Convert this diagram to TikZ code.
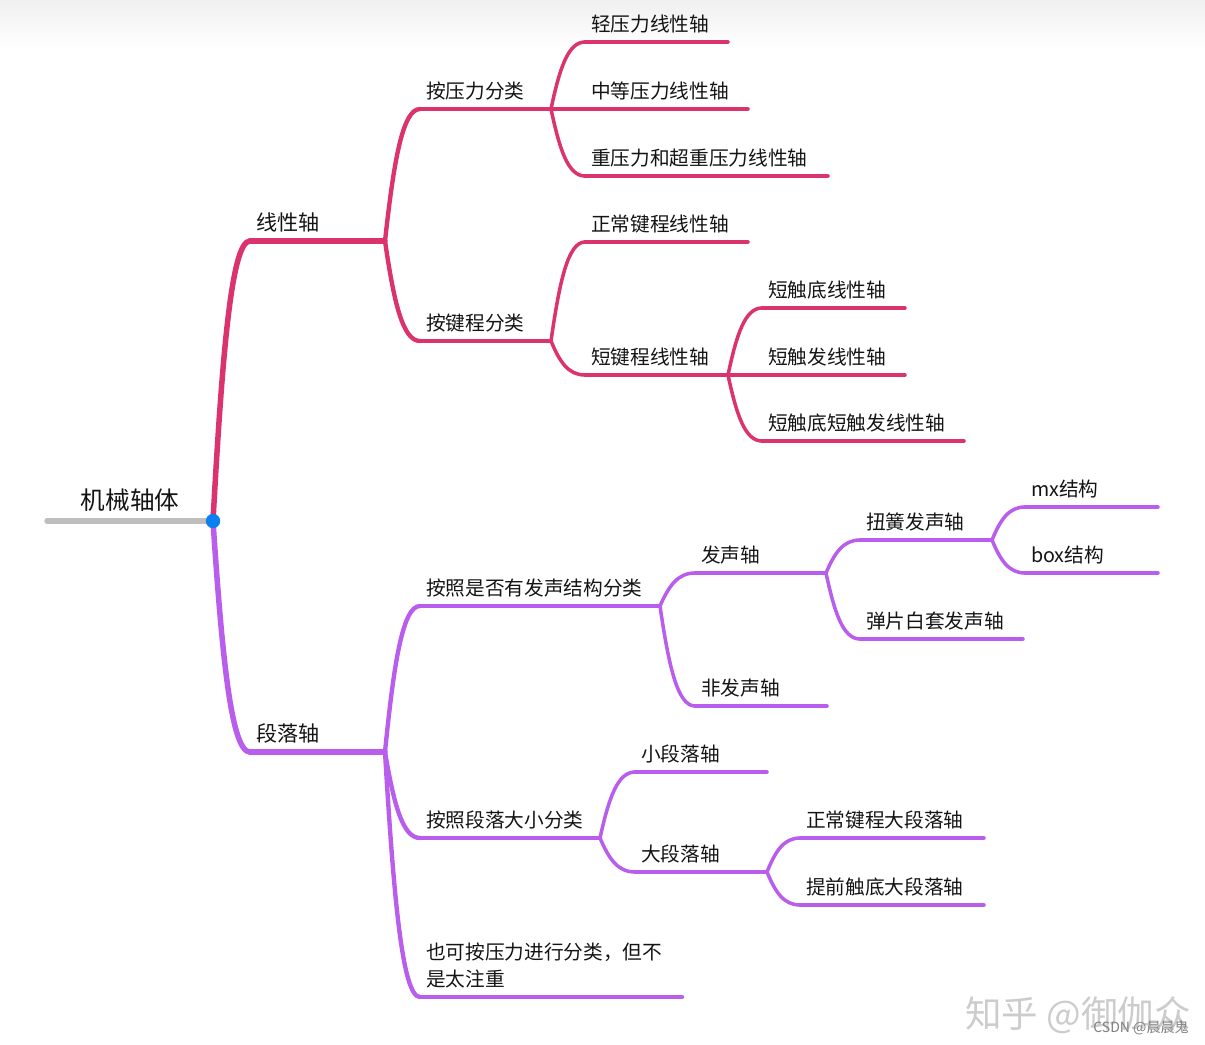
\documentclass[tikz,border=0pt]{standalone}
\usepackage{fontspec}
\setmainfont{Noto Sans CJK SC}
\usetikzlibrary{calc}
\definecolor{pk}{RGB}{219,51,110}
\definecolor{pp}{RGB}{185,94,236}
\definecolor{rootgray}{RGB}{190,190,190}
\definecolor{dotblue}{RGB}{12,128,240}
\definecolor{ink}{RGB}{20,20,20}
\tikzset{
  tp/.style={anchor=south west, inner xsep=0.15cm, inner ysep=0.22cm, outer sep=0pt, text=ink, font=\fontsize{14}{19}\selectfont},
  tpone/.style={tp, font=\fontsize{15}{19}\selectfont},
  lone/.style={line width=3.9pt, line cap=round},
  ltwo/.style={line width=3.1pt, line cap=round},
  lthree/.style={line width=2.5pt, line cap=round},
}
% curved branch from the end of one underline to the start of the next
\newcommand\branch[3]{%
  \draw[#1] let \p1=(#2), \p2=(#3) in
    (\p1) .. controls ({\x1+0.25*(\x2-\x1)},{\y1+0.6*(\y2-\y1)}) and ({\x1+0.5*(\x2-\x1)},{\y2}) .. (\p2);}
\begin{document}
\begin{tikzpicture}[x=0.025cm, y=-0.025cm]
  \useasboundingbox (0,0) rectangle (1205,1045);
  \shade[top color=black!6, bottom color=white] (0,0) rectangle (1205,48);

  % root
  \coordinate (rs) at (47,521);
  \coordinate (ctr) at (213,521);
  \draw[lone, rootgray] (rs) -- (ctr);
  \node[anchor=south, inner ysep=0.22cm, text=ink, font=\fontsize{17.5}{21}\selectfont] (root) at ($(rs)!0.5!(ctr)$) {机械轴体};

  % 线性轴
  \begin{scope}[pk]
    \node[tpone] (xxz) at (250,241) {线性轴};
    \draw[lone] (xxz.south west) -- (385,241) coordinate (xxz-e);
    \node[tp] (ayl) at (420,109) {按压力分类};
    \draw[ltwo] (ayl.south west) -- (551,109) coordinate (ayl-e);
    \node[tp] (ajc) at (420,341) {按键程分类};
    \draw[ltwo] (ajc.south west) -- (551,341) coordinate (ajc-e);
    \node[tp] (qyl) at (585,42) {轻压力线性轴};
    \draw[lthree] (qyl.south west) -- (728,42);
    \node[tp] (zdyl) at (585,109) {中等压力线性轴};
    \draw[lthree] (zdyl.south west) -- (748,109);
    \node[tp] (zyl) at (585,176) {重压力和超重压力线性轴};
    \draw[lthree] (zyl.south west) -- (828,176);
    \node[tp] (zcjc) at (585,242) {正常键程线性轴};
    \draw[lthree] (zcjc.south west) -- (748,242);
    \node[tp] (djc) at (585,375) {短键程线性轴};
    \draw[lthree] (djc.south west) -- (728,375) coordinate (djc-e);
    \node[tp] (dcd) at (762,308) {短触底线性轴};
    \draw[lthree] (dcd.south west) -- (905,308);
    \node[tp] (dcf) at (762,375) {短触发线性轴};
    \draw[lthree] (dcf.south west) -- (905,375);
    \node[tp] (dcdf) at (762,441) {短触底短触发线性轴};
    \draw[lthree] (dcdf.south west) -- (964,441);

    \branch{lone}{ctr}{xxz.south west}
    \foreach \a/\b in {xxz-e/ayl, xxz-e/ajc}
      {\branch{ltwo}{\a}{\b.south west}}
    \foreach \a/\b in {ayl-e/qyl, ayl-e/zdyl, ayl-e/zyl, ajc-e/zcjc, ajc-e/djc, djc-e/dcd, djc-e/dcf, djc-e/dcdf}
      {\branch{lthree}{\a}{\b.south west}}
  \end{scope}

  % 段落轴
  \begin{scope}[pp]
    \node[tpone] (dlz) at (250,752) {段落轴};
    \draw[lone] (dlz.south west) -- (385,752) coordinate (dlz-e);
    \node[tp] (fsjg) at (420,606) {按照是否有发声结构分类};
    \draw[ltwo] (fsjg.south west) -- (660,606) coordinate (fsjg-e);
    \node[tp] (dldx) at (420,838) {按照段落大小分类};
    \draw[ltwo] (dldx.south west) -- (600,838) coordinate (dldx-e);
    \node[tp, align=left] (ylf) at (420,997) {也可按压力进行分类，但不\\是太注重};
    \draw[ltwo] (ylf.south west) -- (682,997);
    \node[tp] (fsz) at (695,573) {发声轴};
    \draw[lthree] (fsz.south west) -- (826,573) coordinate (fsz-e);
    \node[tp] (ffsz) at (695,706) {非发声轴};
    \draw[lthree] (ffsz.south west) -- (827,706);
    \node[tp] (nh) at (860,540) {扭簧发声轴};
    \draw[lthree] (nh.south west) -- (992,540) coordinate (nh-e);
    \node[tp] (dp) at (860,639) {弹片白套发声轴};
    \draw[lthree] (dp.south west) -- (1023,639);
    \node[tp] (mx) at (1025,507) {mx结构};
    \draw[lthree] (mx.south west) -- (1158,507);
    \node[tp] (box) at (1025,573) {box结构};
    \draw[lthree] (box.south west) -- (1158,573);
    \node[tp] (xdl) at (635,772) {小段落轴};
    \draw[lthree] (xdl.south west) -- (767,772);
    \node[tp] (ddl) at (635,872) {大段落轴};
    \draw[lthree] (ddl.south west) -- (767,872) coordinate (ddl-e);
    \node[tp] (zcdl) at (800,838) {正常键程大段落轴};
    \draw[lthree] (zcdl.south west) -- (984,838);
    \node[tp] (tqdl) at (800,905) {提前触底大段落轴};
    \draw[lthree] (tqdl.south west) -- (984,905);

    \branch{lone}{ctr}{dlz.south west}
    \foreach \a/\b in {dlz-e/fsjg, dlz-e/dldx, dlz-e/ylf}
      {\branch{ltwo}{\a}{\b.south west}}
    \foreach \a/\b in {fsjg-e/fsz, fsjg-e/ffsz, fsz-e/nh, fsz-e/dp, nh-e/mx, nh-e/box, dldx-e/xdl, dldx-e/ddl, ddl-e/zcdl, ddl-e/tqdl}
      {\branch{lthree}{\a}{\b.south west}}
  \end{scope}

  \fill[dotblue] (ctr) circle (0.18cm);

  % watermarks
  \node[text=black!20, font=\fontsize{26}{30}\selectfont] (wm) at (1078,1015) {知乎 @御伽众};
  \node[text=black!50, font=\fontsize{10}{12}\selectfont] (csdn) at (1141,1028) {CSDN @晨晨鬼};
\end{tikzpicture}
\end{document}
